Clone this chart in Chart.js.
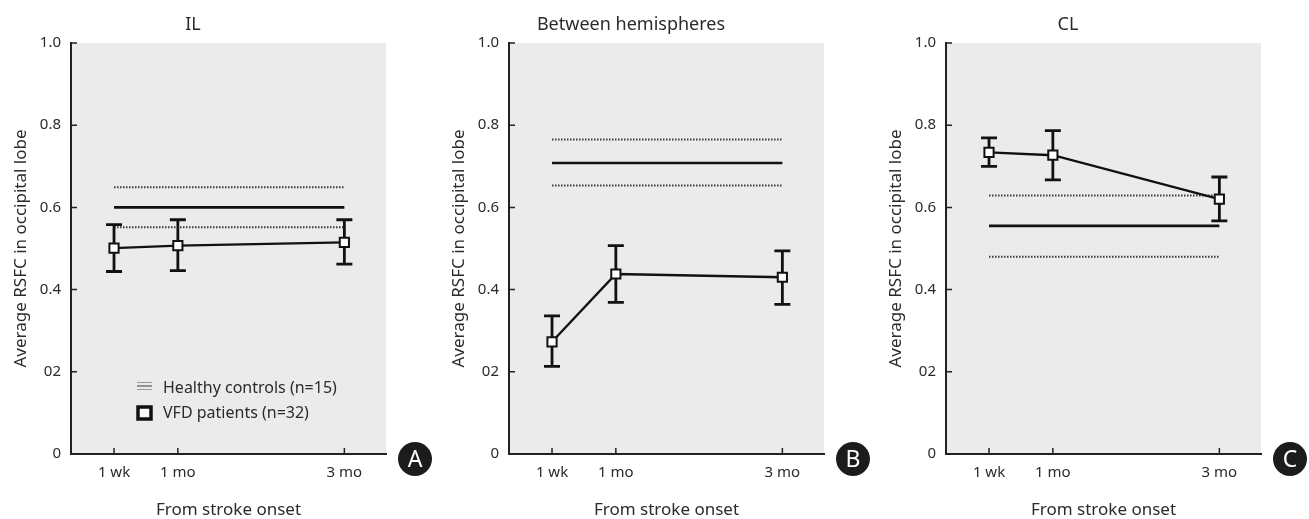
<!DOCTYPE html>
<html>
<head>
<meta charset="utf-8">
<script src="https://cdn.jsdelivr.net/npm/chart.js@4.4.1/dist/chart.umd.min.js"></script>
<style>
  body { margin: 0; background: #fff; width: 1309px; height: 519px; overflow: hidden; position: relative; }
  canvas { position: absolute; top: 0; }
</style>
</head>
<body>
<canvas id="chartA" style="left:0px"></canvas>
<canvas id="chartB" style="left:438px"></canvas>
<canvas id="chartC" style="left:875px"></canvas>
<script>
const timeLabels = ['1 wk', '1 mo', '3 mo'];
const timeDays = [7, 30, 90];
const yTickVals = [0, 0.2, 0.4, 0.6, 0.8, 1.0];
const yTickLabels = ['0', '02', '0.4', '0.6', '0.8', '1.0'];
const panelTitles = ['IL', 'Between hemispheres', 'CL'];
const panelLetters = ['A', 'B', 'C'];

// VFD patients, mean and error bar ends
const vfdIL = [0.501, 0.507, 0.515];
const vfdILhi = [0.558, 0.570, 0.570];
const vfdILlo = [0.444, 0.446, 0.462];
const vfdBH = [0.273, 0.438, 0.430];
const vfdBHhi = [0.336, 0.507, 0.494];
const vfdBHlo = [0.213, 0.369, 0.364];
const vfdCL = [0.734, 0.727, 0.620];
const vfdCLhi = [0.769, 0.787, 0.674];
const vfdCLlo = [0.700, 0.667, 0.567];

// healthy controls (IL, between, CL): mean and the dotted band
const healthyMean = [0.600, 0.708, 0.555];
const healthyHi = [0.649, 0.765, 0.629];
const healthyLo = [0.552, 0.653, 0.480];

const TEXT = '#2b2b2b';
Chart.defaults.font.family = "'Noto Sans', sans-serif";
Chart.defaults.color = TEXT;

const plotBg = {
  id: 'plotBg',
  beforeDraw(chart) {
    const a = chart.chartArea, c = chart.ctx;
    c.save();
    c.fillStyle = '#ebebeb';
    c.fillRect(a.left, a.top, a.right - a.left, a.bottom - a.top);
    c.restore();
  }
};

const errorBars = {
  id: 'errorBars',
  beforeDatasetDraw(chart, args, opts) {
    if (args.index !== 0) return;
    const meta = chart.getDatasetMeta(0);
    const y = chart.scales.y, c = chart.ctx;
    c.save();
    c.strokeStyle = '#111';
    c.lineWidth = 2.8;
    meta.data.forEach((p, i) => {
      const yh = y.getPixelForValue(opts.hi[i]);
      const yl = y.getPixelForValue(opts.lo[i]);
      c.beginPath();
      c.moveTo(p.x, yh); c.lineTo(p.x, yl);
      c.moveTo(p.x - 8, yh); c.lineTo(p.x + 8, yh);
      c.moveTo(p.x - 8, yl); c.lineTo(p.x + 8, yl);
      c.stroke();
    });
    c.restore();
  }
};

// ticks point inwards, so draw them by hand from the scales
const innerTicks = {
  id: 'innerTicks',
  afterDraw(chart) {
    const a = chart.chartArea, c = chart.ctx;
    c.save();
    c.strokeStyle = '#222';
    c.lineWidth = 1.5;
    c.beginPath();
    chart.scales.y.ticks.forEach(t => {
      const py = chart.scales.y.getPixelForValue(t.value);
      if (t.value === 0) return;
      c.moveTo(a.left, py); c.lineTo(a.left + 6, py);
    });
    chart.scales.x.ticks.forEach(t => {
      const px = chart.scales.x.getPixelForValue(t.value);
      c.moveTo(px, a.bottom); c.lineTo(px, a.bottom - 6);
    });
    c.stroke();
    c.restore();
  }
};

const badge = {
  id: 'badge',
  afterDraw(chart, args, opts) {
    const a = chart.chartArea, c = chart.ctx;
    const cx = a.right + 29, cy = a.bottom + 5;
    c.save();
    c.fillStyle = '#1c1c1c';
    c.beginPath();
    c.arc(cx, cy, 17, 0, Math.PI * 2);
    c.fill();
    c.fillStyle = '#fff';
    c.font = "23px 'Noto Sans', sans-serif";
    c.textAlign = 'center';
    c.textBaseline = 'middle';
    c.fillText(opts.letter, cx, cy + 1);
    c.restore();
  }
};

const innerLegend = {
  id: 'innerLegend',
  afterDraw(chart, args, opts) {
    if (!opts.show) return;
    const a = chart.chartArea, c = chart.ctx;
    const x0 = a.left + 66, x1 = a.left + 81;
    const r1 = a.bottom - 68, r2 = a.bottom - 41;
    c.save();
    c.lineWidth = 1.2;
    c.strokeStyle = '#999';
    c.beginPath();
    c.moveTo(x0, r1 - 3.5); c.lineTo(x1, r1 - 3.5);
    c.moveTo(x0, r1 + 3.5); c.lineTo(x1, r1 + 3.5);
    c.stroke();
    c.strokeStyle = '#555';
    c.beginPath();
    c.moveTo(x0, r1); c.lineTo(x1, r1);
    c.stroke();
    c.fillStyle = '#fff';
    c.fillRect(x0 + 1, r2 - 6, 13, 12);
    c.strokeStyle = '#111';
    c.lineWidth = 3.5;
    c.strokeRect(x0 + 1, r2 - 6, 13, 12);
    c.fillStyle = TEXT;
    c.font = "16px 'Noto Sans', sans-serif";
    c.textBaseline = 'middle';
    c.fillText(opts.labels[0], a.left + 92, r1 + 2);
    c.fillText(opts.labels[1], a.left + 92, r2);
    c.restore();
  }
};

function makePanel(k, id, width, mean, hi, lo) {
  const canvas = document.getElementById(id);
  canvas.width = width;
  canvas.height = 519;
  const pts = timeDays.map((d, i) => ({x: d, y: mean[i]}));
  const span = v => [{x: timeDays[0], y: v}, {x: timeDays[timeDays.length - 1], y: v}];
  return new Chart(canvas.getContext('2d'), {
    type: 'line',
    data: {
      datasets: [
        { label: 'VFD patients (n=32)', data: pts, borderColor: '#111', borderWidth: 2.4,
          pointStyle: 'rect', pointRadius: 6.5, pointBackgroundColor: '#fff',
          pointBorderColor: '#111', pointBorderWidth: 2 },
        { label: 'Healthy controls (n=15)', data: span(healthyMean[k]), borderColor: '#111',
          borderWidth: 2.6, pointRadius: 0 },
        { label: 'upper', data: span(healthyHi[k]), borderColor: '#3a3a3a', borderWidth: 2,
          borderDash: [1.5, 1.5], pointRadius: 0 },
        { label: 'lower', data: span(healthyLo[k]), borderColor: '#3a3a3a', borderWidth: 2,
          borderDash: [1.5, 1.5], pointRadius: 0 }
      ]
    },
    options: {
      responsive: false,
      animation: false,
      devicePixelRatio: 1,
      layout: { padding: { left: 0, right: width - 386, top: 0, bottom: 0 } },
      plugins: {
        legend: { display: false },
        tooltip: { enabled: false },
        title: { display: true, text: panelTitles[k], font: { size: 18, weight: 'normal' },
          color: TEXT, padding: { top: 14, bottom: 7.4 } },
        errorBars: { hi: hi, lo: lo },
        badge: { letter: panelLetters[k] },
        innerLegend: { show: k === 0, labels: ['Healthy controls (n=15)', 'VFD patients (n=32)'] }
      },
      scales: {
        x: {
          type: 'linear', min: -8.5, max: 105,
          afterBuildTicks: s => { s.ticks = timeDays.map(v => ({ value: v })); },
          afterFit: s => { s.height = 65; },
          ticks: { callback: (v, i) => timeLabels[i], padding: 10, font: { size: 15 },
            color: TEXT, maxRotation: 0, autoSkip: false },
          grid: { display: false, drawTicks: false },
          border: { color: '#222', width: 2 },
          title: { display: true, text: 'From stroke onset', font: { size: 17 }, color: TEXT,
            padding: { top: 0, bottom: -1 } }
        },
        y: {
          min: 0, max: 1,
          afterBuildTicks: s => { s.ticks = yTickVals.map(v => ({ value: v })); },
          afterFit: s => { s.width = 71; },
          ticks: { callback: (v, i) => yTickLabels[i], padding: 10, font: { size: 15 }, color: TEXT },
          grid: { display: false, drawTicks: false },
          border: { color: '#222', width: 2 },
          title: { display: true, text: 'Average RSFC in occipital lobe', font: { size: 17 },
            color: TEXT, padding: { top: 11, bottom: 0 } }
        }
      }
    },
    plugins: [plotBg, errorBars, innerTicks, badge, innerLegend]
  });
}

makePanel(0, 'chartA', 436, vfdIL, vfdILhi, vfdILlo);
makePanel(1, 'chartB', 436, vfdBH, vfdBHhi, vfdBHlo);
makePanel(2, 'chartC', 434, vfdCL, vfdCLhi, vfdCLlo);
</script>
</body>
</html>
